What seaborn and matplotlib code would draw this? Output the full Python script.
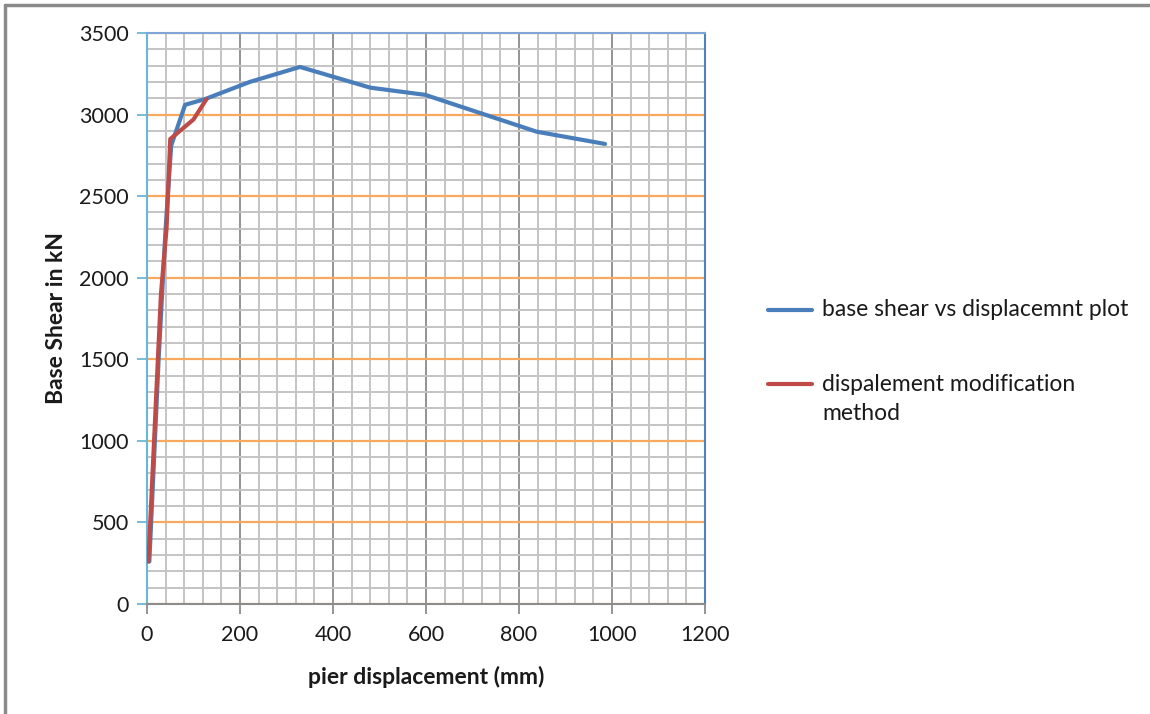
import matplotlib
matplotlib.use("Agg")
import matplotlib.pyplot as plt
import seaborn as sns
import pandas as pd
from matplotlib.lines import Line2D
from matplotlib.ticker import MultipleLocator

# data
blue_x = [5, 25, 40, 52, 82, 125, 221, 329, 480, 598, 838, 985]
blue_y = [260, 1500, 2300, 2810, 3060, 3095, 3200, 3292, 3165, 3121, 2895, 2820]
red_x = [3, 30, 42, 50, 100, 128]
red_y = [260, 1900, 2300, 2850, 2970, 3095]
blue_label = "base shear vs displacemnt plot"
red_label = "dispalement modification\nmethod"
x_label = "pier displacement (mm)"
y_label = "Base Shear in kN"

blue_c = '#4a7ebb'
red_c = '#be4b48'

sns.set_theme(style="white")
plt.rcParams['font.family'] = ['Lato', 'DejaVu Sans']

fig = plt.figure(figsize=(11.5, 7.14), dpi=100)
ax = fig.add_axes([147/1150, 1-604/714, (705-147)/1150, (604-33)/714])

df_b = pd.DataFrame({"x": blue_x, "y": blue_y})
df_r = pd.DataFrame({"x": red_x, "y": red_y})

ax.set_xlim(0, 1200)
ax.set_ylim(0, 3500)
ax.xaxis.set_major_locator(MultipleLocator(200))
ax.xaxis.set_minor_locator(MultipleLocator(40))
ax.yaxis.set_major_locator(MultipleLocator(500))
ax.yaxis.set_minor_locator(MultipleLocator(100))
ax.set_axisbelow(True)
ax.grid(which='minor', axis='both', color='#c4c4c4', lw=1.4)
ax.grid(which='major', axis='x', color='#949494', lw=1.4)
ax.grid(which='major', axis='y', color='#f9a860', lw=1.6)

sns.lineplot(data=df_b, x="x", y="y", sort=False, ax=ax, color=blue_c, lw=3, legend=False, zorder=3)
sns.lineplot(data=df_r, x="x", y="y", sort=False, ax=ax, color=red_c, lw=3, legend=False, zorder=4)

for s, c in [('left', '#6ab6d6'), ('top', '#7fa6d6'), ('right', '#4f81bd'), ('bottom', '#8c8c8c')]:
    ax.spines[s].set_visible(True)
    ax.spines[s].set_color(c)
    ax.spines[s].set_linewidth(1.5)

ax.tick_params(axis='y', which='major', left=True, length=7, width=1.3, color='#6ab6d6', labelsize=15.5, pad=6, labelcolor='#1a1a1a')
ax.tick_params(axis='x', which='major', bottom=True, length=7, width=1.3, color='#8c8c8c', labelsize=15.5, pad=8, labelcolor='#1a1a1a')
ax.tick_params(which='minor', left=False, bottom=False)

ax.set_xlabel(x_label, fontsize=16.5, fontweight='bold', labelpad=15, color='#1a1a1a')
ax.set_ylabel(y_label, fontsize=16.5, fontweight='bold', labelpad=9, color='#1a1a1a')

# legend drawn as figure artists (handle aligned with first label line)
W, H = 1150, 714
def fx(p): return p / W
def fy(p): return 1 - p / H
fig.add_artist(Line2D([fx(768), fx(812)], [fy(310), fy(310)], transform=fig.transFigure, color=blue_c, lw=3))
fig.add_artist(Line2D([fx(768), fx(812)], [fy(384), fy(384)], transform=fig.transFigure, color=red_c, lw=3))
fig.text(fx(822), fy(310), blue_label, fontsize=16.5, va='center', ha='left', color='#1a1a1a')
fig.text(fx(822), fy(374), red_label, fontsize=16.5, va='top', ha='left', color='#1a1a1a', linespacing=1.45)

# figure border (left and top visible)
fig.add_artist(Line2D([fx(5), fx(5)], [0, fy(5)], transform=fig.transFigure, color='#8a8a8a', lw=2.5))
fig.add_artist(Line2D([fx(5), 1], [fy(5), fy(5)], transform=fig.transFigure, color='#8a8a8a', lw=2.5))

fig.savefig("out.png", dpi=100)
